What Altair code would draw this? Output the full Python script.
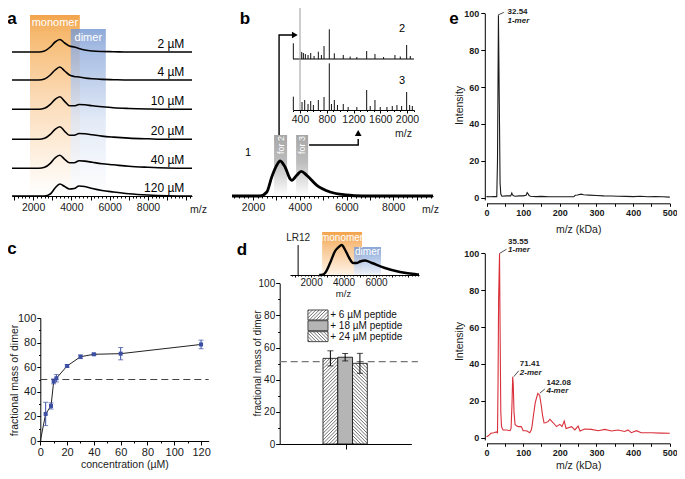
import altair as alt
import pandas as pd

FONT = "Liberation Sans"
W, H = 669, 463

# ====================== DATA ======================
# (a) native MS spectra at six concentrations (intensity above each trace's baseline)
a_mz = [900, 2300, 2600, 2900, 3150, 3400, 3650, 3900, 4150, 4400, 4700, 5100, 5600, 6200, 7000, 8000, 9000, 10300]
a_conc = ["2 µM", "4 µM", "10 µM", "20 µM", "40 µM", "120 µM"]
a_shift = [144, 116, 86.7, 56.7, 27.7, 0]
a_int = [
    [0, 0, 1, 5, 10, 12.5, 9, 6, 5, 3.5, 2, 1, 0.5, 0.3, 0, 0, 0, 0],
    [0, 0, 1, 5, 10, 13, 9, 5, 3.5, 3, 2, 1.2, 0.6, 0.3, 0, 0, 0, 0],
    [0, 0, 1, 5, 10, 12.6, 8, 3.5, 3.5, 4.8, 4.5, 3.5, 2.5, 1.5, 0.8, 0.3, 0, 0],
    [0, 0, 1, 5, 10, 12.6, 8, 4, 4, 5.8, 5.5, 4.5, 3.2, 2.2, 1.2, 0.5, 0, 0],
    [0, 0, 1, 5, 10.5, 13, 9, 5.5, 5.5, 7.5, 7.2, 6, 4.6, 3.5, 2, 1, 0.3, 0],
    [0, 0, 0, 2, 8, 12, 9.5, 7, 7.5, 10, 9.5, 7.5, 5.5, 4, 2.3, 1, 0.3, 0],
]
a_major = list(range(1000, 10001, 1000))
a_minor = list(range(1000, 10201, 200))
a_mono = [1840, 4440, 181]
a_dim = [3970, 5800, 167]

# (b) spectrum 1 and MS/MS insets 2 and 3
b_mz = [1100, 2300, 2590, 2800, 3020, 3160, 3370, 3590, 3660, 3870, 4060, 4300, 4730, 5300, 6000, 6700, 8000, 9700]
b_int = [0, 0, 4, 19, 31, 35, 29, 17, 15.7, 20.7, 24.7, 20.7, 10.7, 4, 1, 0, 0, 0]
b_major = list(range(2000, 9001, 1000))
b_minor = list(range(1200, 9601, 200))
b_sel = [["for 2", 2900, 3457, 61], ["for 3", 3843, 4357, 61]]
b_arrows = [[1, 0, 3114, 61], [1, 1, 3114, 161], [1, 2, 3720, 161],
            [2, 0, 4400, 51], [2, 1, 6500, 51], [2, 2, 6500, 57]]
b_head_right = [3790, 161]
b_head_up = [6500, 63]
b2_mz = [300, 400, 425, 450, 480, 520, 560, 610, 674, 720, 759, 838, 913, 1047, 1150, 1250, 1397, 1521, 1650, 1820, 1900, 1995, 2050]
b2_int = [15.7, 54, 7, 6, 5, 4, 6, 3, 7.3, 4, 13, 29.7, 5.7, 4, 2.5, 2, 8, 5, 2, 4, 2.5, 14, 3]
b3_mz = [300, 400, 430, 470, 520, 560, 600, 674, 759, 838, 870, 913, 960, 1047, 1120, 1250, 1397, 1450, 1521, 1600, 1700, 1780, 1850, 1920, 1995, 2040, 2080]
b3_int = [13.3, 51, 8, 10, 6, 9, 5, 10, 13, 46.7, 6, 10, 5, 6, 3, 3, 20, 4, 10, 3, 3, 4, 5, 4, 18, 5, 4]
b_ins_shift = [51, 0]
b_ins_major = list(range(400, 2001, 400))
b_ins_minor = list(range(300, 2101, 100))

# (c) fractional mass of dimer vs concentration
c_conc = [0, 4, 8, 10, 12, 20, 30, 40, 60, 120]
c_frac = [0, 22, 28.5, 48.5, 51, 61, 68.5, 70.5, 71, 78.5]
c_err = [0, 9.5, 2.5, 2, 3, 1, 1.5, 0.8, 5, 3.5]
c_ref = 50

# (d) peptide additions
d_labels = ["+ 6 µM peptide", "+ 18 µM peptide", "+ 24 µM peptide"]
d_vals = [53.3, 54.0, 50.2]
d_err = [4.7, 2.3, 6.2]
d_ref = 51.2
d_ins_mz = [2500, 2700, 2860, 3170, 3480, 3700, 3890, 4100, 4350, 4600, 4800, 5020, 5320, 5750, 6550, 7480, 8500, 8650]
d_ins_int = [0, 0.3, 2, 12, 24, 28, 30, 25, 17, 12, 12, 13.5, 14.5, 12, 7, 3, 0.7, 0.5]
d_lr12 = [1200, 30]
d_mono = [2680, 5140, 43]
d_dim = [4650, 6310, 28]
d_ins_major = list(range(1000, 8001, 1000))
d_ins_minor = list(range(800, 8601, 200))

# (e) mass spectra (kDa)
e_top = [(0, 0.6), (10, 0.5), (20, 0.6), (28, 0.6), (30, 20), (32.54, 99), (35, 50), (37, 8), (39, 2), (42, 0.8),
         (55, 1), (66, 1), (69, 2.5), (71, 1.5), (74, 1), (78, 0.8), (90, 1), (100, 1), (108, 1.3), (111, 2.8),
         (113, 2.3), (116, 1.2), (120, 0.8), (135, 0.6), (150, 0.7), (170, 0.5), (200, 0.5), (220, 0.5),
         (238, 0.5), (242, 1.3), (248, 1.5), (258, 1.9), (265, 1.6), (280, 1.4), (300, 1.2), (320, 1.0),
         (340, 0.9), (360, 0.8), (380, 0.7), (400, 0.6), (420, 0.8), (440, 0.5), (460, 0.6), (480, 0.5), (500, 0.3)]
e_bot = [(0, 0.5), (5, 1), (12, 2.4), (20, 2.7), (27, 3.1), (30, 2.7), (31.5, 30), (33, 75), (35.55, 100),
         (37, 60), (39, 14), (41, 6), (45, 4.2), (55, 4.2), (64, 3.8), (67, 5), (69.5, 18), (71.41, 33),
         (73, 29), (75, 14), (78, 7), (82, 6.5), (87, 6), (95, 6), (100, 3.8), (109, 3.8), (118, 2.7),
         (122, 4.2), (124, 6), (128, 12), (133, 19), (137, 22), (140, 24), (142.08, 23.5), (145, 23),
         (149, 18), (153, 12), (157, 8), (161, 8.1), (168, 8.7), (173, 10), (182, 8.1), (191, 6), (200, 7.2),
         (206, 6), (212, 9), (217, 5), (232, 6), (241, 4.2), (250, 6.3), (255, 3.6), (268, 4.7), (286, 4.5),
         (305, 3.8), (323, 4.5), (341, 3.6), (359, 4.2), (377, 3.4), (386, 4.2), (395, 2.7), (409, 3.8),
         (422, 2.7), (450, 2.7), (477, 2.5), (500, 2.4)]
e_top_ann = [["32.54", "1-mer", 57.3, 100.5, 95.9, 31.6, 99.1, 47.3, 100.5]]
e_bot_ann = [["35.55", "1-mer", 58.9, 106.3, 101.6, 36.3, 100, 54.5, 102.2],
             ["71.41", "2-mer", 91, 40, 35.3, 74.5, 33.1, 88, 36.3],
             ["142.08", "4-mer", 163.6, 29.8, 25.1, 145.4, 24.1, 159, 26.4]]
e_major = list(range(0, 501, 100))
e_minor = list(range(50, 451, 100))

panel_letters = [["a", 12, 24], ["b", 245, 24], ["e", 454, 24], ["c", 12, 254], ["d", 242, 255]]


# ====================== HELPERS ======================
def S(domain, ref_range):
    return alt.Scale(domain=domain, range=[v - 8 for v in ref_range], nice=False, zero=False)


def offset_of(orient, at_ref):
    return (at_ref - 8) - H if orient == "bottom" else -(at_ref - 8)


def axis(orient, at_ref, values, label_every=None, label_max=None, size=4, fs=10.5, pad=2,
         bold=False, **kw):
    args = dict(orient=orient, offset=offset_of(orient, at_ref), values=values, format="d",
                tickSize=size, labelOverlap=False, labelFlush=False, labelFontSize=fs,
                labelPadding=pad, labelFontWeight="bold" if bold else "normal", grid=False)
    if label_every:
        test = f"abs(datum.value % {label_every}) < 1e-6"
        if label_max is not None:
            test += f" && datum.value <= {label_max}"
        args["labelExpr"] = f"{test} ? datum.label : ''"
    if "title" not in kw:
        args["title"] = None
    else:
        args.update(titleFontWeight="normal", titleAlign="center", titleBaseline="middle")
    args.update(kw)
    return alt.Axis(**args)


def minor_ticks(orient, at_ref, values, scale, size):
    a = alt.Axis(orient=orient, offset=offset_of(orient, at_ref), values=values, labels=False,
                 domain=False, tickSize=size, title=None, grid=False)
    df = pd.DataFrame({"v": values})
    if orient == "bottom":
        enc = dict(x=alt.X("v:Q", scale=scale, axis=a))
    else:
        enc = dict(y=alt.Y("v:Q", scale=scale, axis=a))
    return alt.Chart(df).mark_point(opacity=0).encode(**enc)


def X(f, s, a=None):
    return alt.X(f, scale=s, axis=a)


def Y(f, s, a=None):
    return alt.Y(f, scale=s, axis=a)


def grad(stops):
    return alt.Gradient(gradient="linear", x1=0, x2=0, y1=0, y2=1,
                        stops=[alt.GradientStop(offset=o, color=c) for o, c in stops])


def band(x0, x1, top, xs, ys, stops, op=1.0):
    df = pd.DataFrame({"x0": [x0], "x1": [x1], "b": [0], "t": [top]})
    return alt.Chart(df).mark_rect(fill=grad(stops), fillOpacity=op).encode(
        x=X("x0:Q", xs), x2="x1:Q", y=Y("b:Q", ys), y2="t:Q")


def label(items, xs, ys, **mk):
    df = pd.DataFrame(items, columns=["t", "x", "y"])
    return alt.Chart(df).mark_text(**mk).encode(x=X("x:Q", xs), y=Y("y:Q", ys), text="t:N")


def hatch(rects, xpx, ypx, step=3.4, direction=1):
    rows = []
    for (x0, x1, y0, y1) in rects:
        w = (x1 - x0) * xpx
        h = (y1 - y0) * ypx
        c = -w + step / 2
        while c < h:
            lo, hi = max(0.0, -c), min(w, h - c)
            if hi > lo:
                u0, u1 = lo, hi
                v0, v1 = u0 + c, u1 + c
                if direction < 0:
                    u0, u1 = w - u0, w - u1
                rows.append({"x": x0 + u0 / xpx, "x2": x0 + u1 / xpx,
                             "y": y0 + v0 / ypx, "y2": y0 + v1 / ypx})
            c += step
    return pd.DataFrame(rows)


ORANGE = [(0, "#f3a44c"), (0.1, "#f6b96f"), (0.45, "#fbdab5"), (1, "#ffffff")]
BLUE = [(0, "#7597d0"), (0.12, "#93aedd"), (0.55, "#dde6f5"), (1, "#ffffff")]
GRAY = [(0, "#a6a6a6"), (0.45, "#bdbdbd"), (1, "#ffffff")]
layers = []

# ====================== PANEL A ======================
ax_s = S([900, 10300], [12, 192])
ay_s = S([0, 200], [196, -4])
a_df = pd.DataFrame([{"conc": c, "mz": m, "y": s + v}
                     for c, s, ints in zip(a_conc, a_shift, a_int) for m, v in zip(a_mz, ints)])
a_axis = axis("bottom", 196, a_major, 2000, 8000, size=4, fs=10.5, pad=2,
              title="m/z", titleX=190, titleY=13, titleFontSize=10.5)
layers += [
    band(a_mono[0], a_mono[1], a_mono[2], ax_s, ay_s, ORANGE),
    band(a_dim[0], a_dim[1], a_dim[2], ax_s, ay_s, BLUE, 0.82),
    label([["monomer", (a_mono[0] + a_mono[1]) / 2, a_mono[2] - 7.5],
           ["dimer", (a_dim[0] + a_dim[1]) / 2, a_dim[2] - 8.5]], ax_s, ay_s,
          color="white", fontSize=11, baseline="middle", align="center"),
    minor_ticks("bottom", 196, a_minor, ax_s, 2),
    alt.Chart(a_df).mark_line(color="black", strokeWidth=1.6, interpolate="monotone").encode(
        x=X("mz:Q", ax_s, a_axis), y=Y("y:Q", ay_s), detail="conc:N"),
    label([[c, 9900, s + 8.5] for c, s in zip(a_conc, a_shift)], ax_s, ay_s,
          fontSize=12, align="right", baseline="middle", color="black"),
]

# ====================== PANEL B ======================
bx_s = S([1100, 9700], [232, 433])
by_s = ay_s
b_df = pd.DataFrame({"mz": b_mz, "y": b_int})
b_axis = axis("bottom", 196, b_major, 2000, size=4, fs=10.5, pad=2,
              title="m/z", titleX=422, titleY=13, titleFontSize=10.5)
arr_df = pd.DataFrame(b_arrows, columns=["seg", "ord", "x", "y"])
layers += [
    band(b_sel[0][1], b_sel[0][2], b_sel[0][3], bx_s, by_s, GRAY),
    band(b_sel[1][1], b_sel[1][2], b_sel[1][3], bx_s, by_s, GRAY),
    label([[s[0], (s[1] + s[2]) / 2, 51] for s in b_sel], bx_s, by_s,
          color="white", fontSize=9, angle=270, align="center", baseline="middle"),
    minor_ticks("bottom", 196, b_minor, bx_s, 2),
    alt.Chart(b_df).mark_line(color="black", strokeWidth=2.8, interpolate="monotone").encode(
        x=X("mz:Q", bx_s, b_axis), y=Y("y:Q", by_s)),
    alt.Chart(arr_df).mark_line(color="black", strokeWidth=1.4).encode(
        x=X("x:Q", bx_s), y=Y("y:Q", by_s), detail="seg:N", order="ord:Q"),
    alt.Chart(pd.DataFrame({"x": [b_head_right[0]], "y": [b_head_right[1]]})).mark_point(
        shape="triangle-right", filled=True, color="black", size=45, opacity=1).encode(
        x=X("x:Q", bx_s), y=Y("y:Q", by_s)),
    alt.Chart(pd.DataFrame({"x": [b_head_up[0]], "y": [b_head_up[1]]})).mark_point(
        shape="triangle-up", filled=True, color="black", size=45, opacity=1).encode(
        x=X("x:Q", bx_s), y=Y("y:Q", by_s)),
    label([["1", 1786, 43]], bx_s, by_s, fontSize=11, baseline="middle", align="center"),
]

# inset spectra 2 and 3
bix_s = S([295, 2105], [293, 414])
biy_s = S([0, 200], [110, -90])
ins_df = pd.DataFrame(
    [{"mz": m, "b": b_ins_shift[0], "t": b_ins_shift[0] + v} for m, v in zip(b2_mz, b2_int)] +
    [{"mz": m, "b": b_ins_shift[1], "t": b_ins_shift[1] + v} for m, v in zip(b3_mz, b3_int)])
base_df = pd.DataFrame({"x0": [295], "x1": [2105], "y": [b_ins_shift[0]]})
bi_axis = axis("bottom", 110, b_ins_major, size=3, fs=10.5, pad=1,
               title="m/z", titleX=395, titleY=23, titleFontSize=10.5)
layers += [
    minor_ticks("bottom", 110, b_ins_minor, bix_s, 1.5),
    alt.Chart(base_df).mark_rule(color="black", strokeWidth=1.2).encode(
        x=X("x0:Q", bix_s, bi_axis), x2="x1:Q", y=Y("y:Q", biy_s)),
    alt.Chart(ins_df).mark_rule(strokeWidth=1).encode(
        x=X("mz:Q", bix_s), y=Y("b:Q", biy_s), y2="t:Q",
        color=alt.condition("datum.mz == 400", alt.value("#9a9a9a"), alt.value("#111111"))),
    label([["2", 1925, 81], ["3", 1925, 29]], bix_s, biy_s, fontSize=11, baseline="middle",
          align="center"),
]

# ====================== PANEL C ======================
C0 = 40.3
cx_s = S([0, 125.7], [C0, C0 + 168.4])
cy_s = S([0, 100], [441, 318])
c_df = pd.DataFrame({"conc": c_conc, "frac": c_frac, "err": c_err})
c_df["lo"] = c_df["frac"] - c_df["err"]
c_df["hi"] = c_df["frac"] + c_df["err"]
c_pts = c_df[c_df["conc"] > 0]
c_xaxis = axis("bottom", 441, list(range(0, 121, 20)), size=4, fs=11, pad=1,
               title="concentration (µM)", titleX=C0 + 76, titleY=23, titleFontSize=10.5)
c_yaxis = axis("left", C0, list(range(0, 101, 20)), size=3.5, fs=11, pad=1,
               title="fractional mass of dimer", titleX=6.5 - (C0 - 8), titleY=372, titleAngle=270,
               titleFontSize=10.5)
c_ref_df = pd.DataFrame({"x0": [0], "x1": [125.7], "y": [c_ref]})
BLUE_PT = "#3b4ea3"
layers += [
    minor_ticks("bottom", 441, list(range(10, 121, 20)), cx_s, 2),
    minor_ticks("left", C0, list(range(10, 91, 20)), cy_s, 1.8),
    alt.Chart(c_ref_df).mark_rule(color="#444444", strokeWidth=1.2, strokeDash=[7, 4]).encode(
        x=X("x0:Q", cx_s, c_xaxis), x2="x1:Q", y=Y("y:Q", cy_s, c_yaxis)),
    alt.Chart(c_df).mark_line(color="#222222", strokeWidth=1).encode(
        x=X("conc:Q", cx_s), y=Y("frac:Q", cy_s)),
    alt.Chart(c_pts).mark_rule(color=BLUE_PT, strokeWidth=1).encode(
        x=X("conc:Q", cx_s), y=Y("lo:Q", cy_s), y2="hi:Q"),
    alt.Chart(c_pts).mark_tick(color=BLUE_PT, orient="horizontal", size=5, thickness=1).encode(
        x=X("conc:Q", cx_s), y=Y("lo:Q", cy_s)),
    alt.Chart(c_pts).mark_tick(color=BLUE_PT, orient="horizontal", size=5, thickness=1).encode(
        x=X("conc:Q", cx_s), y=Y("hi:Q", cy_s)),
    alt.Chart(c_pts).mark_square(color=BLUE_PT, size=16, opacity=1).encode(
        x=X("conc:Q", cx_s), y=Y("frac:Q", cy_s)),
]

# ====================== PANEL D ======================
dy_s = S([0, 100], [444, 283.3])
dbx_s = S([0, 3], [323, 367.3])
dax_s = S([0, 1], [279.7, 411.3])
d_xpx = (367.3 - 323) / 3
d_ypx = (444 - 283.3) / 100
d_yaxis = axis("left", 279.7, list(range(0, 101, 20)), size=4, fs=10, pad=1,
               title="fractional mass of dimer", titleX=-22.7, titleY=355, titleAngle=270,
               titleFontSize=10)
d_xaxis = alt.Axis(orient="bottom", offset=offset_of("bottom", 444), values=[0.5], labels=False,
                   tickSize=5, title=None, grid=False)
dref_df = pd.DataFrame({"x0": [0], "x1": [1.05], "y": [d_ref]})
bars_df = pd.DataFrame({"i": [0, 1, 2], "v": d_vals, "e": d_err, "lab": d_labels})
bars_df["x1"] = bars_df["i"] + 1
bars_df["xc"] = bars_df["i"] + 0.5
bars_df["b"] = 0
bars_df["lo"] = bars_df["v"] - bars_df["e"]
bars_df["hi"] = bars_df["v"] + bars_df["e"]
fills = alt.condition("datum.i == 1", alt.value("#b5b5b5"), alt.value("white"))

leg_rows = [[-1.02, 0.34, 77.2, 83.4], [-1.02, 0.34, 70.5, 76.7], [-1.02, 0.34, 63.7, 69.9]]
leg_df = pd.DataFrame(leg_rows, columns=["x0", "x1", "y0", "y1"])
leg_df["i"] = [0, 1, 2]
leg_df["lab"] = d_labels
leg_df["tx"] = 0.49
leg_df["ty"] = (leg_df["y0"] + leg_df["y1"]) / 2

h_fwd = hatch([(0, 1, 0, d_vals[0]), tuple(leg_rows[0])], d_xpx, d_ypx, 3.4, 1)
h_back = hatch([(2, 3, 0, d_vals[2]), tuple(leg_rows[2])], d_xpx, d_ypx, 3.4, -1)
h_df = pd.concat([h_fwd, h_back], ignore_index=True)

layers += [
    minor_ticks("left", 279.7, list(range(10, 91, 20)), dy_s, 2),
    alt.Chart(dref_df).mark_rule(color="#777777", strokeWidth=1.2, strokeDash=[7, 4]).encode(
        x=X("x0:Q", dax_s, d_xaxis), x2="x1:Q", y=Y("y:Q", dy_s, d_yaxis)),
    alt.Chart(bars_df).mark_rect(stroke="black", strokeWidth=0.8).encode(
        x=X("i:Q", dbx_s), x2="x1:Q", y=Y("b:Q", dy_s), y2="v:Q", fill=fills),
    alt.Chart(leg_df).mark_rect(stroke="#222222", strokeWidth=0.8).encode(
        x=X("x0:Q", dbx_s), x2="x1:Q", y=Y("y0:Q", dy_s), y2="y1:Q", fill=fills),
    alt.Chart(h_df).mark_rule(color="#333333", strokeWidth=0.7).encode(
        x=X("x:Q", dbx_s), x2="x2:Q", y=Y("y:Q", dy_s), y2="y2:Q"),
    alt.Chart(bars_df).mark_rule(color="black", strokeWidth=1).encode(
        x=X("xc:Q", dbx_s), y=Y("lo:Q", dy_s), y2="hi:Q"),
    alt.Chart(bars_df).mark_tick(color="black", orient="horizontal", size=6, thickness=1).encode(
        x=X("xc:Q", dbx_s), y=Y("lo:Q", dy_s)),
    alt.Chart(bars_df).mark_tick(color="black", orient="horizontal", size=6, thickness=1).encode(
        x=X("xc:Q", dbx_s), y=Y("hi:Q", dy_s)),
    alt.Chart(leg_df).mark_text(align="left", baseline="middle", fontSize=10, color="#111111").encode(
        x=X("tx:Q", dbx_s), y=Y("ty:Q", dy_s), text="lab:N"),
]

# d inset spectrum
dix_s = S([700, 8650], [290, 419])
diy_s = S([0, 50], [275, 225])
di_axis = axis("bottom", 275, d_ins_major, 2000, 6000, size=2, fs=10, pad=0,
               title="m/z", titleX=335, titleY=18.5, titleFontSize=9.5)
di_df = pd.DataFrame({"mz": d_ins_mz, "y": d_ins_int})
lr_df = pd.DataFrame({"mz": [d_lr12[0]], "b": [0], "t": [d_lr12[1]]})
layers += [
    band(d_mono[0], d_mono[1], d_mono[2], dix_s, diy_s,
         [(0, "#f3a44c"), (0.35, "#f7c48c"), (1, "#fff4e8")]),
    band(d_dim[0], d_dim[1], d_dim[2], dix_s, diy_s,
         [(0, "#7597d0"), (0.4, "#a3bbe3"), (1, "#eef2fa")], 0.85),
    label([["monomer", (d_mono[0] + d_mono[1]) / 2, d_mono[2] - 6],
           ["dimer", (d_dim[0] + d_dim[1]) / 2, d_dim[2] - 5]], dix_s, diy_s,
          color="white", fontSize=10, baseline="middle", align="center"),
    minor_ticks("bottom", 275, d_ins_minor, dix_s, 1),
    alt.Chart(lr_df).mark_rule(color="black", strokeWidth=1).encode(
        x=X("mz:Q", dix_s, di_axis), y=Y("b:Q", diy_s), y2="t:Q"),
    alt.Chart(di_df).mark_line(color="black", strokeWidth=2.4, interpolate="monotone").encode(
        x=X("mz:Q", dix_s), y=Y("y:Q", diy_s)),
    label([["LR12", d_lr12[0], 37]], dix_s, diy_s, fontSize=10, baseline="middle",
          align="center", color="#222222"),
]


# ====================== PANEL E ======================
E0, E1, EY = 486.5, 669.8, 484.8


def e_panel(pairs, ann, y_top_ref, y0_ref, xaxis_ref, color, title_y_ref, x_title_y):
    ex_s = S([0, 500], [E0, E1])
    ey_s = S([-1.2, 100], [y0_ref + 2.2, y_top_ref])
    df = pd.DataFrame(pairs, columns=["m", "i"])
    xa = axis("bottom", xaxis_ref, e_major, size=3, fs=9, pad=2, bold=True,
              title="m/z (kDa)", titleX=(E0 + E1) / 2 - 8, titleY=x_title_y, titleFontSize=10.5)
    ya = axis("left", EY, list(range(0, 101, 20)), size=4, fs=9, pad=2, bold=True,
              title="Intensity", titleX=-25, titleY=title_y_ref - 8, titleAngle=270,
              titleFontSize=10.5)
    adf = pd.DataFrame(ann, columns=["v", "n", "tx", "ty1", "ty2", "lx", "ly", "lx2", "ly2"])
    return [
        minor_ticks("bottom", xaxis_ref, e_minor, ex_s, 3),
        alt.Chart(df).mark_line(color=color, strokeWidth=1.1).encode(
            x=X("m:Q", ex_s, xa), y=Y("i:Q", ey_s, ya)),
        alt.Chart(adf).mark_rule(color="#222222", strokeWidth=0.8).encode(
            x=X("lx:Q", ex_s), x2="lx2:Q", y=Y("ly:Q", ey_s), y2="ly2:Q"),
        alt.Chart(adf).mark_text(align="left", baseline="middle", fontSize=8, fontWeight="bold",
                                 color="#222222").encode(
            x=X("tx:Q", ex_s), y=Y("ty1:Q", ey_s), text="v:N"),
        alt.Chart(adf).mark_text(align="left", baseline="middle", fontSize=8, fontWeight="bold",
                                 fontStyle="italic", color="#222222").encode(
            x=X("tx:Q", ex_s), y=Y("ty2:Q", ey_s), text="n:N"),
    ]


layers += e_panel(e_top, e_top_ann, 13.3, 197.7, 203.3, "#1a1a1a", 105, 26)
layers += e_panel(e_bot, e_bot_ann, 253.3, 437.7, 443.3, "#d9303a", 341, 22)

# ====================== PANEL LETTERS ======================
for t, px, py in panel_letters:
    layers.append(alt.Chart(pd.DataFrame({"t": [t]})).mark_text(
        fontSize=17, fontWeight="bold", align="center", baseline="alphabetic", color="black").encode(
        x=alt.value(px - 8), y=alt.value(py - 8), text="t:N"))

chart = alt.layer(*layers).resolve_scale(x="independent", y="independent").properties(
    width=W, height=H, autosize=alt.AutoSizeParams(type="none"), padding=0
).configure_view(stroke=None).configure_axis(
    domainColor="black", tickColor="black", labelColor="#1a1a1a", titleColor="#1a1a1a",
    labelFont=FONT, titleFont=FONT, domainWidth=1, tickWidth=1, grid=False
).configure_text(font=FONT)

chart.save("out.html", embed_options={"renderer": "svg", "actions": False})
